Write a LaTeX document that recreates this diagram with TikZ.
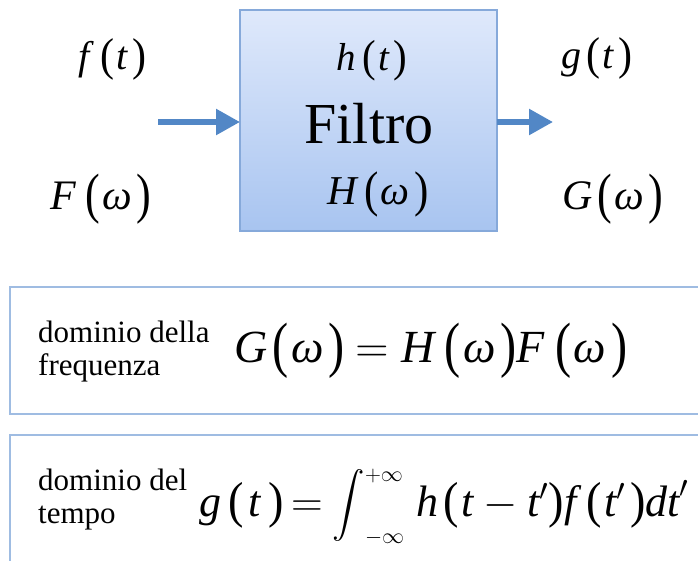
\RequirePackage{fix-cm}
\documentclass[tikz,border=0pt]{standalone}
\usepackage{exscale}
\usepackage{graphicx}
\usepackage{fontspec}
\setmainfont{Liberation Serif}
\usetikzlibrary{arrows.meta}
\definecolor{boxtop}{HTML}{DFE9FB}
\definecolor{boxbot}{HTML}{A8C4F0}
\definecolor{boxline}{HTML}{86A9DA}
\definecolor{arrowblue}{HTML}{5287C6}
\definecolor{panelline}{HTML}{9FBCE2}
\newcommand{\vi}[1]{\textit{#1}}
% stretched text parentheses centred on the math axis
\newcommand{\LP}[1]{\mathopen{\vcenter{\hbox{\scalebox{1.05}[#1]{(}}}}}
\newcommand{\RP}[1]{\mathclose{\vcenter{\hbox{\scalebox{1.05}[#1]{)}}}}}
\newcommand{\bigint}{\mathop{\vcenter{\hbox{\resizebox*{!}{72pt}{$\displaystyle\int$}}}}\nolimits}
\begin{document}
\begin{tikzpicture}[x=1pt,y=-1pt,
  lbl/.style={inner sep=0pt,anchor=center},
  side/.style={inner sep=0pt,anchor=base west,font=\fontsize{31}{33}\selectfont},
  flow/.style={draw=arrowblue,line width=5.5pt,-{Triangle[length=24pt,width=25pt]}},
  panel/.style={draw=panelline,line width=1.3pt,fill=white}]
\useasboundingbox (0,0) rectangle (698,560);
\clip (0,0) rectangle (698,560);
\shade[top color=boxtop,bottom color=boxbot,draw=boxline,line width=1.2pt] (240,10) rectangle (497,231);
\coordinate (boxW) at (240,122);
\coordinate (boxE) at (497,122);
\coordinate (inS) at (158,122);
\coordinate (outE) at (553,122);
\draw[flow] (inS) -- (boxW);
\draw[flow] (boxE) -- (outE);
\node[lbl,font=\fontsize{40}{40}\selectfont] (ft) at (112,59) {$\vi{f}\mkern5mu\LP{1.15}\mkern1mu\vi{t}\mkern2mu\RP{1.15}$};
\node[lbl,font=\fontsize{42}{42}\selectfont] (Fw) at (101,199) {$\vi{F}\mkern4mu\LP{1.32}\mkern1mu\vi{ω}\mkern2mu\RP{1.32}$};
\node[lbl,font=\fontsize{40}{40}\selectfont] (gt) at (597,58) {$\vi{g}\mkern2mu\LP{1.15}\mkern1mu\vi{t}\mkern2mu\RP{1.15}$};
\node[lbl,font=\fontsize{42}{42}\selectfont] (Gw) at (613,199) {$\vi{G}\mkern2mu\LP{1.32}\mkern1mu\vi{ω}\mkern2mu\RP{1.32}$};
\node[lbl,font=\fontsize{39}{39}\selectfont] (ht) at (372,61) {$\vi{h}\mkern3mu\LP{1.15}\mkern1mu\vi{t}\mkern2mu\RP{1.15}$};
\node[lbl,font=\fontsize{58}{58}\selectfont] (filtro) at (369,124) {Filtro};
\node[lbl,font=\fontsize{41}{41}\selectfont] (Hw) at (378,194) {$\vi{H}\mkern3mu\LP{1.22}\mkern1mu\vi{ω}\mkern2mu\RP{1.22}$};
\draw[panel] (10,287) rectangle (712,414);
\draw[panel] (10,435) rectangle (712,575);
\node[side] (freq1) at (38,342) {dominio della};
\node[side] (freq2) at (38,375) {frequenza};
\node[lbl,font=\fontsize{46}{46}\selectfont] (eq1) at (431,351) {$\vi{G}\mkern2mu\LP{1.33}\mkern1mu\vi{ω}\mkern2mu\RP{1.33}\mkern-1mu=\vi{H}\mkern4mu\LP{1.33}\mkern1mu\vi{ω}\mkern2mu\RP{1.33}\vi{F}\mkern4mu\LP{1.33}\mkern1mu\vi{ω}\mkern2mu\RP{1.33}$};
\node[side] (tempo1) at (38,490) {dominio del};
\node[side] (tempo2) at (38,523) {tempo};
\node[lbl,font=\fontsize{44}{44}\selectfont] (eq2) at (444,507) {$\vi{g}\mkern3mu\LP{1.15}\mkern2mu\vi{t}\mkern3mu\RP{1.15}\mkern-2mu=\mkern-1mu\bigint^{\scriptscriptstyle+\infty}_{\scriptscriptstyle-\infty}\mkern2mu\vi{h}\mkern2mu\LP{1.15}\mkern1mu\vi{t}-\vi{t}'\RP{1.15}\vi{f}\mkern4mu\LP{1.15}\mkern1mu\vi{t}'\mkern2mu\RP{1.15}\vi{dt}'$};
\end{tikzpicture}
\end{document}
